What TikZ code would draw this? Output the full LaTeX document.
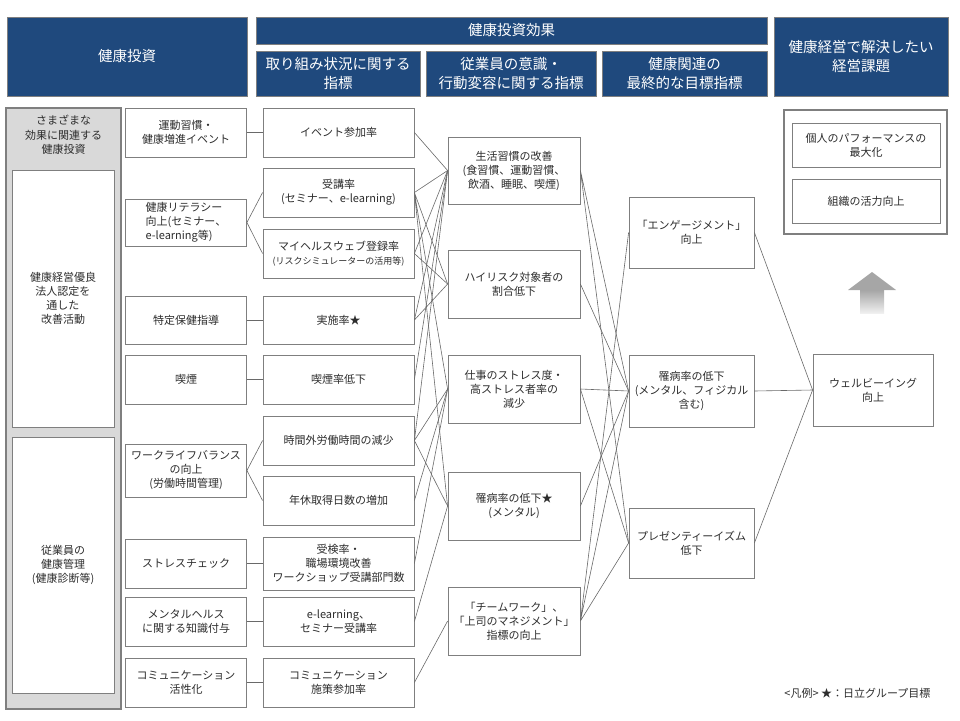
\documentclass[tikz,border=0pt]{standalone}
\usepackage{fontspec}
\setmainfont{Noto Sans CJK JP}
\usepackage{tikz}

\definecolor{hdblue}{RGB}{31,73,125}
\definecolor{boxgray}{RGB}{127,127,127}
\definecolor{linkgray}{RGB}{105,105,105}
\definecolor{panelgray}{RGB}{217,217,217}
\definecolor{txtgray}{RGB}{45,45,45}
\definecolor{arrowgray}{RGB}{166,166,166}

\begin{document}
\begin{tikzpicture}[x=1pt,y=-1pt,
  header/.style={fill=hdblue,draw=boxgray,line width=0.6pt,text=white,
    font=\fontsize{14.5}{19}\selectfont,align=center,inner sep=0pt},
  item/.style={draw=boxgray,fill=white,line width=0.8pt,text=txtgray,
    font=\fontsize{11}{14}\selectfont,align=center,inner sep=0pt},
  invest/.style={item,minimum width=121pt,minimum height=49pt},
  measure/.style={item,minimum width=151pt,minimum height=49pt},
  change/.style={item,minimum width=132pt,minimum height=68pt},
  goal/.style={item,minimum width=125pt,minimum height=71pt},
  link/.style={draw=linkgray,line width=0.6pt}]

% Fix the page to the reference size
\useasboundingbox (0,0) rectangle (960,720);

% Header row
\node[header,minimum width=240pt,minimum height=79pt] (hInv) at (127,56.5) {健康投資};
\node[header,minimum width=511pt,minimum height=27pt] (hEff) at (511.5,30.5) {健康投資効果};
\node[header,minimum width=164pt,minimum height=45pt] (hAct) at (338,73.5) {取り組み状況に関する\\指標};
\node[header,minimum width=170pt,minimum height=45pt] (hBeh) at (511,73.5) {従業員の意識・\\行動変容に関する指標};
\node[header,minimum width=165pt,minimum height=45pt] (hGoal) at (684.5,73.5) {健康関連の\\最終的な目標指標};
\node[header,minimum width=174pt,minimum height=79pt] (hIssue) at (861,56.5) {健康経営で解決したい\\経営課題};

% Gray panel on the left
\node[draw=boxgray,fill=panelgray,line width=1.5pt,minimum width=115pt,minimum height=601pt] (panel) at (63.5,408.5) {};
\node[text=txtgray,font=\fontsize{11}{14.5}\selectfont,align=center] (panelTitle) at (63.5,135) {さまざまな\\効果に関連する\\健康投資};
\node[item,minimum width=102pt,minimum height=257pt] (cert) at (63,298.5) {健康経営優良\\法人認定を\\通した\\改善活動};
\node[item,minimum width=102pt,minimum height=256pt] (mgmt) at (63,565) {従業員の\\健康管理\\(健康診断等)};

% Health investments
\node[invest] (a1) at (186,132.5) {運動習慣・\\健康増進イベント};
\node[invest,minimum height=47pt] (a2) at (186,222.5) {\begin{tabular}{@{}l@{}}健康リテラシー\\向上(セミナー、\\e-learning等)\end{tabular}};
\node[invest,minimum height=48pt] (a3) at (186,320) {特定保健指導};
\node[invest] (a4) at (186,379.5) {喫煙};
\node[invest,minimum height=53pt] (a5) at (186,470.5) {ワークライフバランス\\の向上\\(労働時間管理)};
\node[invest] (a6) at (186,563.5) {ストレスチェック};
\node[invest] (a7) at (186,621.5) {メンタルヘルス\\に関する知識付与};
\node[invest] (a8) at (186,682.5) {コミュニケーション\\活性化};

% Indicators of the activities
\node[measure] (b1) at (338.5,132.5) {イベント参加率};
\node[measure] (b2) at (338.5,192.5) {受講率\\(セミナー、e-learning)};
\node[measure] (b3) at (338.5,253.5) {マイヘルスウェブ登録率\\{\fontsize{9}{13}\selectfont(リスクシミュレーターの活用等)}};
\node[measure,minimum height=48pt] (b4) at (338.5,320) {実施率★};
\node[measure] (b5) at (338.5,379.5) {喫煙率低下};
\node[measure] (b6) at (338.5,440.5) {時間外労働時間の減少};
\node[measure] (b7) at (338.5,500.5) {年休取得日数の増加};
\node[measure,minimum height=53pt] (b8) at (338.5,563.5) {受検率・\\職場環境改善\\ワークショップ受講部門数};
\node[measure] (b9) at (338.5,621.5) {e-learning、\\セミナー受講率};
\node[measure] (b10) at (338.5,682.5) {コミュニケーション\\施策参加率};

% Changes in awareness and behaviour
\node[change,minimum height=67pt] (c1) at (514,170.5) {生活習慣の改善\\(食習慣、運動習慣、\\飲酒、睡眠、喫煙)};
\node[change] (c2) at (514,284) {ハイリスク対象者の\\割合低下};
\node[change] (c3) at (514,389) {仕事のストレス度・\\高ストレス者率の\\減少};
\node[change] (c4) at (514,506) {罹病率の低下★\\(メンタル)};
\node[change] (c5) at (514,621) {「チームワーク」、\\「上司のマネジメント」\\指標の向上};

% Final health goals
\node[goal] (d1) at (691.5,232.5) {「エンゲージメント」\\向上};
\node[goal,minimum height=72pt] (d2) at (691.5,391) {罹病率の低下\\(メンタル、フィジカル\\含む)};
\node[goal,minimum height=70pt] (d3) at (691.5,543) {プレゼンティーイズム\\低下};

% Management issues
\node[item,minimum width=120pt,minimum height=72pt] (e1) at (873,390) {ウェルビーイング\\向上};
\node[draw=boxgray,line width=2pt,minimum width=163pt,minimum height=124pt] (issues) at (865.5,172) {};
\node[item,minimum width=148pt,minimum height=44pt] (f1) at (866,145) {個人のパフォーマンスの\\最大化};
\node[item,minimum width=148pt,minimum height=44pt] (f2) at (866,201) {組織の活力向上};

% Gray arrow pointing up
\fill[arrowgray] (848,290) -- (872,272) -- (896,290) -- cycle;
\shade[top color=arrowgray,bottom color=gray!12] (860,290) rectangle (884,313);

% Investments to indicators
\draw[link] (a1.east) -- (b1.west);
\draw[link] (a2.east) -- (b2.west) (a2.east) -- (b3.west);
\draw[link] (a3.east) -- (b4.west);
\draw[link] (a4.east) -- (b5.west);
\draw[link] (a5.east) -- (b6.west) (a5.east) -- (b7.west);
\draw[link] (a6.east) -- (b8.west);
\draw[link] (a7.east) -- (b9.west);
\draw[link] (a8.east) -- (b10.west);

% Indicators to behaviour changes
\draw[link] (b1.east) -- (c1.west);
\draw[link] (b2.east) -- (c1.west) (b2.east) -- (c2.west) (b2.east) -- (c3.west) (b2.east) -- (c4.west);
\draw[link] (b3.east) -- (c1.west) (b3.east) -- (c2.west);
\draw[link] (b4.east) -- (c1.west) (b4.east) -- (c2.west);
\draw[link] (b5.east) -- (c1.west);
\draw[link] (b6.east) -- (c1.west) (b6.east) -- (c3.west) (b6.east) -- (c4.west);
\draw[link] (b7.east) -- (c3.west);
\draw[link] (b8.east) -- (c3.west);
\draw[link] (b9.east) -- (c4.west);
\draw[link] (b10.east) -- (c5.west);

% Behaviour changes to final goals
\draw[link] (c1.east) -- (d2.west) (c1.east) -- (d3.west);
\draw[link] (c2.east) -- (d2.west);
\draw[link] (c3.east) -- (d2.west) (c3.east) -- (d3.west);
\draw[link] (c4.east) -- (d2.west);
\draw[link] (c5.east) -- (d1.west) (c5.east) -- (d2.west) (c5.east) -- (d3.west);

% Final goals to well-being
\draw[link] (d1.east) -- (e1.west);
\draw[link] (d2.east) -- (e1.west);
\draw[link] (d3.east) -- (e1.west);

% Legend
\node[anchor=east,text=txtgray,font=\fontsize{11}{14}\selectfont] (legend) at (934,693) {<凡例> ★：日立グループ目標};

\end{tikzpicture}
\end{document}
